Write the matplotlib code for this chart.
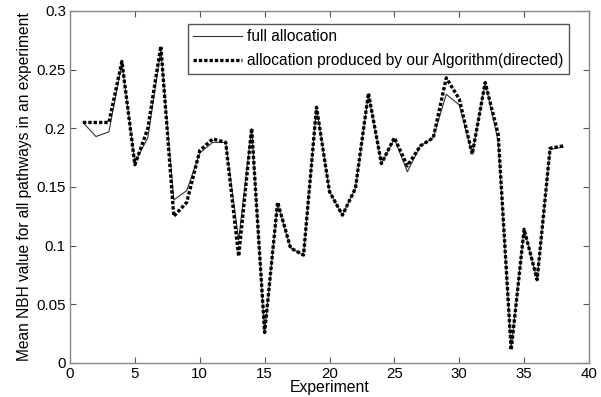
import matplotlib
matplotlib.use("Agg")
import matplotlib.pyplot as plt
import numpy as np

plt.rcParams["font.family"] = ["Liberation Sans", "DejaVu Sans"]

# experiment index
experiments = list(range(1, 39))

# mean NBH value, full allocation
full_alloc = [0.205, 0.193, 0.197, 0.256, 0.171, 0.192, 0.267, 0.139, 0.147, 0.179,
              0.188, 0.188, 0.105, 0.200, 0.026, 0.136, 0.098, 0.092, 0.218, 0.146,
              0.126, 0.149, 0.229, 0.170, 0.191, 0.163, 0.185, 0.192, 0.229, 0.220,
              0.178, 0.239, 0.189, 0.012, 0.114, 0.071, 0.182, 0.184]

# mean NBH value, allocation produced by the algorithm (directed)
algo_alloc = [0.205, 0.205, 0.205, 0.257, 0.169, 0.200, 0.270, 0.125, 0.137, 0.181,
              0.191, 0.188, 0.091, 0.200, 0.026, 0.137, 0.098, 0.092, 0.218, 0.146,
              0.126, 0.149, 0.230, 0.170, 0.192, 0.168, 0.185, 0.192, 0.243, 0.225,
              0.178, 0.239, 0.195, 0.011, 0.114, 0.071, 0.183, 0.185]

fig = plt.figure(figsize=(6.01, 3.97), dpi=100)
ax = fig.add_axes([70 / 601, 1 - 363 / 397, 519 / 601, 352 / 397])

ax.plot(experiments, full_alloc, color="#333333", linewidth=0.8, label="full allocation")
ax.plot(experiments, algo_alloc, color="black", linewidth=2.4, linestyle=(0, (1, 0.6)),
        label="allocation produced by our Algorithm(directed)")

ax.set_xlim(0, 40)
ax.set_ylim(0, 0.3)
ax.set_xticks(np.arange(0, 41, 5))
ax.set_yticks([0, 0.05, 0.1, 0.15, 0.2, 0.25, 0.3])
ax.set_yticklabels(["0", "0.05", "0.1", "0.15", "0.2", "0.25", "0.3"])
ax.tick_params(direction="in", length=4, top=True, right=True, labelsize=10.8,
               color="#555555", pad=3)
for sp in ax.spines.values():
    sp.set_color("#888888")
    sp.set_linewidth(1.0)

ax.set_xlabel("Experiment", fontsize=11.3, labelpad=-1)
ax.set_ylabel("Mean NBH value for all pathways in an experiment", fontsize=11.2, labelpad=3)

leg = ax.legend(loc="upper right", bbox_to_anchor=(0.977, 0.986), fontsize=11.2,
                handlelength=3.15, fancybox=False, framealpha=1, borderpad=0.35,
                labelspacing=0.6, handletextpad=0.35)
leg.get_frame().set_edgecolor("#555555")
leg.get_frame().set_linewidth(1.0)

fig.savefig("out.png", dpi=100)
